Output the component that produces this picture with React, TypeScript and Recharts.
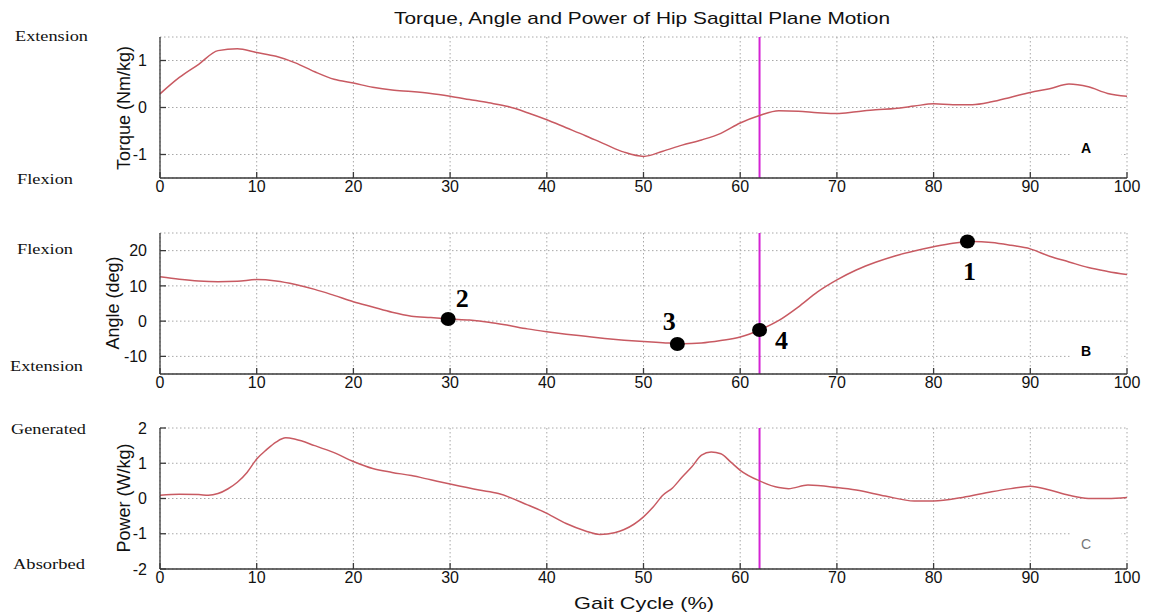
import React from 'react';
import {
  ComposedChart,
  Line,
  Scatter,
  XAxis,
  YAxis,
  CartesianGrid,
  ReferenceLine,
  ReferenceArea,
} from 'recharts';

// ---------- data ----------
const chartTitle = 'Torque, Angle and Power of Hip Sagittal Plane Motion';
const xLabel = 'Gait Cycle (%)';
const xTicks = [0, 10, 20, 30, 40, 50, 60, 70, 80, 90, 100];
const toeOffPercent = 62;

const gait = [
  0, 2, 4, 6, 8, 10, 12, 14, 16, 18, 20, 22, 24, 26, 28, 30, 32, 34, 36, 38, 40, 42, 44, 46, 48, 50,
  52, 54, 56, 58, 60, 62, 64, 66, 68, 70, 72, 74, 76, 78, 80, 82, 84, 86, 88, 90, 92, 94, 96, 98, 100,
];
const torque = [
  0.29, 0.64, 0.92, 1.21, 1.25, 1.17, 1.09, 0.95, 0.76, 0.6, 0.52, 0.43, 0.37, 0.34, 0.3, 0.24, 0.17,
  0.1, 0.02, -0.11, -0.26, -0.43, -0.6, -0.78, -0.95, -1.04, -0.93, -0.8, -0.69, -0.55, -0.33, -0.17,
  -0.07, -0.08, -0.11, -0.13, -0.09, -0.05, -0.02, 0.03, 0.08, 0.06, 0.06, 0.12, 0.22, 0.32, 0.4, 0.5,
  0.44, 0.3, 0.24,
];
const angle = [
  12.6, 11.9, 11.4, 11.2, 11.3, 11.8, 11.4, 10.4, 9.0, 7.3, 5.5, 4.0, 2.5, 1.4, 1.0, 0.6, 0.3, -0.3,
  -1.2, -2.2, -3.0, -3.7, -4.3, -4.9, -5.4, -5.8, -6.1, -6.4, -6.2, -5.5, -4.5, -2.5, 0.2, 4.0, 8.3,
  11.7, 14.5, 16.7, 18.5, 19.9, 21.1, 22.1, 22.6, 22.3, 21.5, 20.5, 18.4, 16.8, 15.2, 14.1, 13.2,
];
const powerGait = [
  0, 2, 4, 5, 6, 7, 8, 9, 10, 11, 12, 13, 14, 16, 18, 20, 22, 24, 26, 28, 30, 33, 35, 38, 40, 42, 44,
  45.5, 47, 48, 50, 51, 52, 53, 54, 55, 56, 57, 58, 59, 60, 62, 64, 65, 67, 70, 72, 75, 78, 80, 83, 86,
  88, 90, 92, 94, 96, 98, 100,
];
const power = [
  0.09, 0.12, 0.11, 0.09, 0.14, 0.27, 0.46, 0.74, 1.12, 1.38, 1.6, 1.72, 1.68, 1.5, 1.3, 1.05, 0.85,
  0.74, 0.65, 0.53, 0.41, 0.24, 0.14, -0.18, -0.42, -0.71, -0.92, -1.02, -0.97, -0.88, -0.52, -0.24,
  0.09, 0.3, 0.61, 0.9, 1.23, 1.32, 1.27, 1.04, 0.8, 0.5, 0.31, 0.28, 0.38, 0.31, 0.24, 0.07, -0.07,
  -0.07, 0.03, 0.19, 0.28, 0.35, 0.24, 0.09, 0.0, 0.0, 0.03,
];

const markerGait = [83.5, 29.8, 53.5, 62];
const markerAngle = [22.6, 0.6, -6.5, -2.5];
const markerNames = ['1', '2', '3', '4'];

const torqueTicks = [-1, 0, 1];
const angleTicks = [-10, 0, 10, 20];
const powerTicks = [-2, -1, 0, 1, 2];

// ---------- styles ----------
const W = 1152;
const PANEL_H = 200;
const LINE_COLOR = '#c85a62';
const MAGENTA = '#d424d4';
const AXIS_COLOR = '#3a3a3a';
const SANS = '"Liberation Sans", Arial, sans-serif';
const SERIF = '"Liberation Serif", "Times New Roman", serif';
const labelOffsets: Record<string, [number, number]> = {
  '1': [2, 39],
  '2': [14, -12],
  '3': [-8, -14],
  '4': [22, 19],
};

const torqueData = gait.map((g, i) => ({ x: g, v: torque[i] }));
const angleData = gait.map((g, i) => ({ x: g, v: angle[i] }));
const powerData = powerGait.map((g, i) => ({ x: g, v: power[i] }));
const markerData = markerGait.map((g, i) => ({ x: g, y: markerAngle[i], n: markerNames[i] }));

const MarkerShape = (props: any) => {
  const { cx, cy, payload } = props;
  if (cx == null || cy == null) return <g />;
  const off = labelOffsets[payload.n] || [0, 0];
  return (
    <g>
      <ellipse cx={cx} cy={cy} rx={7.5} ry={7} fill="#000" />
      <text
        x={cx + off[0]}
        y={cy + off[1]}
        textAnchor="middle"
        fontFamily={SERIF}
        fontWeight="bold"
        fontSize={26}
        fill="#000"
      >
        {payload.n}
      </text>
    </g>
  );
};

type PanelProps = {
  top: number;
  data: { x: number; v: number }[];
  domain: [number, number];
  ticks: number[];
  boxY: [number, number];
  letter: string;
  letterBold: boolean;
  children?: React.ReactNode;
};

function Panel({ top, data, domain, ticks, boxY, letter, letterBold, children }: PanelProps) {
  return (
    <div style={{ position: 'absolute', left: 0, top, width: W, height: PANEL_H }}>
      <ComposedChart
        width={W}
        height={PANEL_H}
        data={data}
        margin={{ top: 37, right: 25, bottom: 0, left: 110 }}
      >
        <CartesianGrid stroke="#a8a8a8" strokeDasharray="1.5 2.5" strokeWidth={1} />
        <XAxis
          dataKey="x"
          type="number"
          domain={[0, 100]}
          ticks={xTicks}
          interval={0}
          allowDataOverflow
          height={22}
          tickSize={-6}
          tickMargin={9}
          stroke={AXIS_COLOR}
          strokeWidth={1.3}
          tick={{ fill: '#111', fontSize: 16, fontFamily: SANS }}
        />
        <XAxis
          xAxisId="t"
          orientation="top"
          dataKey="x"
          type="number"
          domain={[0, 100]}
          ticks={xTicks}
          interval={0}
          allowDataOverflow
          height={0}
          tickSize={-6}
          tick={false}
          stroke={AXIS_COLOR}
          strokeWidth={1.3}
        />
        <YAxis
          type="number"
          domain={domain}
          ticks={ticks}
          interval={0}
          allowDataOverflow
          width={50}
          tickSize={-6}
          tickMargin={19}
          stroke={AXIS_COLOR}
          strokeWidth={1.3}
          tick={{ fill: '#111', fontSize: 16, fontFamily: SANS }}
        />
        <YAxis
          yAxisId="r"
          orientation="right"
          type="number"
          domain={domain}
          ticks={ticks}
          interval={0}
          allowDataOverflow
          width={0}
          tickSize={-6}
          tick={false}
          stroke={AXIS_COLOR}
          strokeWidth={1.3}
        />
        <ReferenceArea
          x1={94.2}
          x2={99.4}
          y1={boxY[0]}
          y2={boxY[1]}
          fill="#ffffff"
          fillOpacity={1}
          stroke="none"
          label={{
            value: letter,
            position: 'insideLeft',
            offset: 10,
            fill: letterBold ? '#000' : '#777',
            fontSize: 14,
            fontWeight: letterBold ? 'bold' : 'normal',
            fontFamily: SANS,
          }}
        />
        <ReferenceLine x={toeOffPercent} stroke={MAGENTA} strokeWidth={2} />
        <Line
          type="monotone"
          dataKey="v"
          stroke={LINE_COLOR}
          strokeWidth={1.5}
          dot={false}
          isAnimationActive={false}
        />
        {children}
      </ComposedChart>
    </div>
  );
}

export default function App() {
  const sideLabels = [
    { t: 'Extension', x: 15, y: 41, len: 73 },
    { t: 'Flexion', x: 17, y: 184, len: 56 },
    { t: 'Flexion', x: 17, y: 254, len: 56 },
    { t: 'Extension', x: 10, y: 371, len: 73 },
    { t: 'Generated', x: 11, y: 434, len: 75 },
    { t: 'Absorbed', x: 13, y: 569, len: 72 },
  ];
  const yLabels = [
    { t: 'Torque (Nm/kg)', x: 130, y: 108 },
    { t: 'Angle (deg)', x: 119, y: 303 },
    { t: 'Power (W/kg)', x: 130, y: 498 },
  ];
  return (
    <div
      style={{
        position: 'absolute',
        left: 0,
        top: 0,
        width: W,
        height: 614,
        background: '#fff',
        overflow: 'hidden',
      }}
    >
      <Panel
        top={0}
        data={torqueData}
        domain={[-1.5, 1.5]}
        ticks={torqueTicks}
        boxY={[-1.1, -0.64]}
        letter="A"
        letterBold
      />
      <Panel
        top={196}
        data={angleData}
        domain={[-15, 25]}
        ticks={angleTicks}
        boxY={[-11, -6.2]}
        letter="B"
        letterBold
      >
        <Scatter data={markerData} dataKey="y" shape={MarkerShape} isAnimationActive={false} />
      </Panel>
      <Panel
        top={391}
        data={powerData}
        domain={[-2, 2]}
        ticks={powerTicks}
        boxY={[-1.65, -0.95]}
        letter="C"
        letterBold={false}
      />
      <svg
        width={W}
        height={614}
        style={{ position: 'absolute', left: 0, top: 0, pointerEvents: 'none' }}
      >
        <text
          x={642}
          y={24}
          textAnchor="middle"
          fontFamily={SANS}
          fontSize={17}
          fill="#111"
          textLength={496}
          lengthAdjust="spacingAndGlyphs"
        >
          {chartTitle}
        </text>
        {sideLabels.map((s, i) => (
          <text
            key={i}
            x={s.x}
            y={s.y}
            fontFamily={SERIF}
            fontSize={14}
            fill="#111"
            textLength={s.len}
            lengthAdjust="spacingAndGlyphs"
          >
            {s.t}
          </text>
        ))}
        {yLabels.map((s, i) => (
          <text
            key={i}
            x={s.x}
            y={s.y}
            textAnchor="middle"
            transform={`rotate(-90 ${s.x} ${s.y})`}
            fontFamily={SANS}
            fontSize={18}
            fill="#111"
          >
            {s.t}
          </text>
        ))}
        <text
          x={644}
          y={609}
          textAnchor="middle"
          fontFamily={SANS}
          fontSize={17}
          fill="#111"
          textLength={140}
          lengthAdjust="spacingAndGlyphs"
        >
          {xLabel}
        </text>
      </svg>
    </div>
  );
}
